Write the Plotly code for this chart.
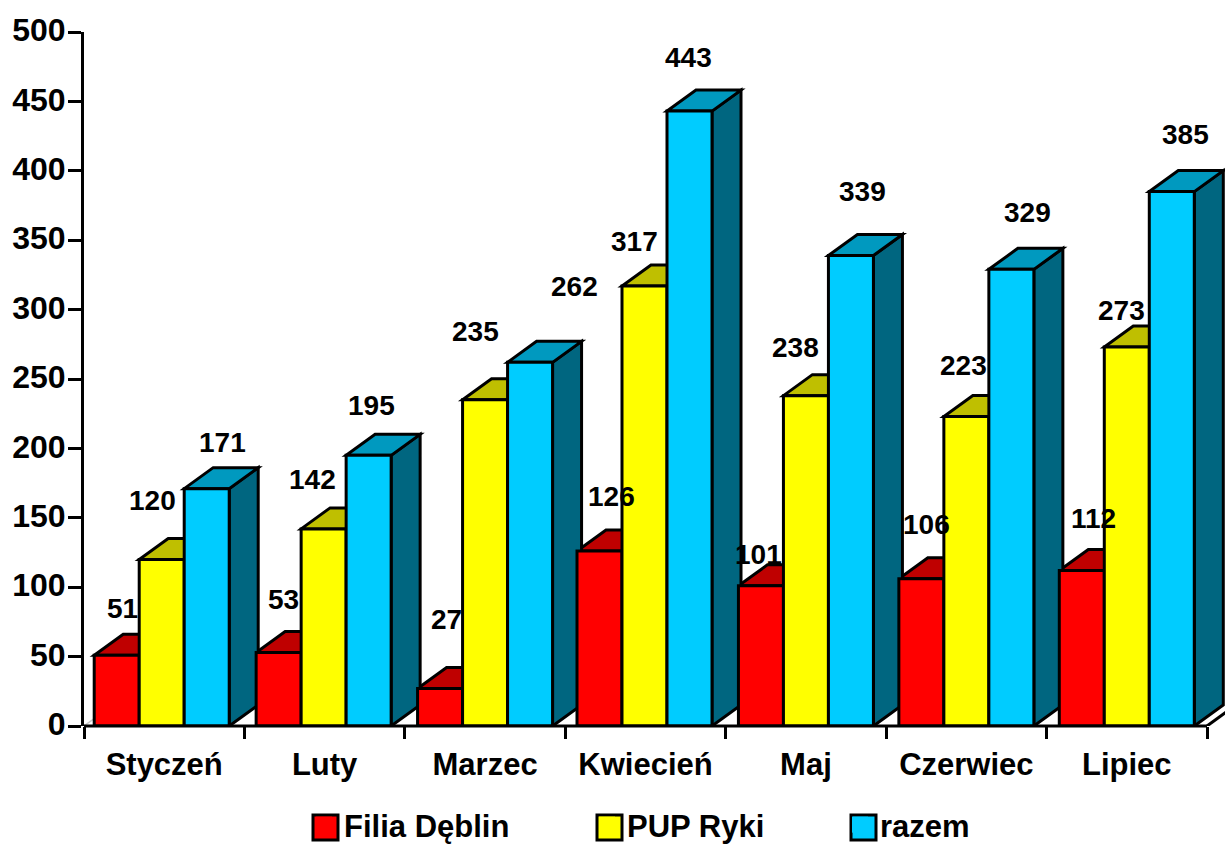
import plotly.graph_objects as go

months = ["Styczeń", "Luty", "Marzec", "Kwiecień", "Maj", "Czerwiec", "Lipiec"]
filia = [51, 53, 27, 126, 101, 106, 112]
pup = [120, 142, 235, 317, 238, 223, 273]
razem = [171, 195, 262, 443, 339, 329, 385]
series_names = ["Filia Dęblin", "PUP Ryki", "razem"]
y_ticks = [0, 50, 100, 150, 200, 250, 300, 350, 400, 450, 500]

# styling / geometry constants (not data)
FONT = "Liberation Sans"
front = ["#FF0000", "#FFFF00", "#00CCFF"]
top = ["#BF0000", "#BFBF00", "#0099BF"]
side = ["#800000", "#808000", "#006680"]
EDGE = 3
CAT_PX = 1123 / 7
PX_Y = 694 / 500
bar_w = 45 / CAT_PX
depth_x = 29 / CAT_PX
depth_y = 21 / PX_Y
group_nudge = [-2.5 / CAT_PX, -1 / CAT_PX, 0, -1 / CAT_PX, 0, 0, 0]
# label offsets from the centre of each bar's top, px (right, up)
label_off = [
    [(6, 47), (-9, 59), (16, 46)],
    [(5, 53), (-11, 49), (3, 50)],
    [(6, 69), (-10, 68), (44, 76)],
    [(12, 55), (-10, 45), (-1, 54)],
    [(-2, 31), (-10, 48), (12, 64)],
    [(5, 54), (-3, 51), (16, 57)],
    [(12, 52), (-5, 37), (14, 57)],
]

fig = go.Figure()
shapes = []
values = [filia, pup, razem]


def px_path(points):
    return "M " + " L ".join(f"{a},{b}" for a, b in points) + " Z"


def left_edge(i, s):
    return i + 0.5 + group_nudge[i] + (s - 1.5) * bar_w


for s, vals in enumerate(values):
    for i, v in enumerate(vals):
        x0 = left_edge(i, s)
        x1 = x0 + bar_w
        shapes.append(dict(type="path", layer="below", xref="x", yref="y",
                           path=px_path([(x1, 0), (x1 + depth_x, depth_y), (x1 + depth_x, v + depth_y), (x1, v)]),
                           fillcolor=side[s], line=dict(color="black", width=EDGE)))
        shapes.append(dict(type="path", layer="below", xref="x", yref="y",
                           path=px_path([(x0, v), (x1, v), (x1 + depth_x, v + depth_y), (x0 + depth_x, v + depth_y)]),
                           fillcolor=top[s], line=dict(color="black", width=EDGE)))

for s, vals in enumerate(values):
    fig.add_trace(go.Bar(
        x=[left_edge(i, s) + bar_w / 2 for i in range(len(months))],
        y=vals, width=bar_w, name=series_names[s], showlegend=False,
        marker=dict(color=front[s], line=dict(color="black", width=EDGE)),
    ))

# axis baseline and floor edges
shapes.append(dict(type="line", layer="above", xref="x", yref="paper", x0=0, x1=7, y0=0, y1=0,
                   line=dict(color="black", width=EDGE)))
shapes.append(dict(type="line", layer="above", xref="x", yref="y", x0=7, x1=7 + depth_x, y0=0, y1=depth_y,
                   line=dict(color="black", width=EDGE)))
shapes.append(dict(type="line", layer="below", xref="x", yref="y", x0=0, x1=depth_x, y0=0, y1=depth_y,
                   line=dict(color="#C8C8C8", width=1.5)))

# legend
legend_text_x = [344, 627, 880]
key_x = [313, 597, 851]
layout_legends = {}
for s in range(3):
    lname = "legend" if s == 0 else f"legend{s + 1}"
    fig.add_trace(go.Scatter(
        x=[None], y=[None], mode="markers", name=series_names[s], legend=lname, showlegend=True,
        marker=dict(symbol="square", size=16, color=front[s], line=dict(width=0)),
    ))
    layout_legends[lname] = dict(
        x=(legend_text_x[s] - 40 - 84) / 1141, xanchor="left",
        y=(726 - 825) / 694, yanchor="middle",
        bgcolor="rgba(0,0,0,0)", borderwidth=0, itemclick=False, itemdoubleclick=False,
        font=dict(family=FONT, size=31, color="black", weight=700),
    )
    shapes.append(dict(type="rect", layer="below", xref="paper", yref="paper",
                       x0=(key_x[s] - 84) / 1141, x1=(key_x[s] + 25 - 84) / 1141,
                       y0=(726 - 840) / 694, y1=(726 - 815) / 694,
                       fillcolor=front[s], line=dict(color="black", width=EDGE)))

annotations = []
for s, vals in enumerate(values):
    for i, v in enumerate(vals):
        dx, dy = label_off[i][s]
        annotations.append(dict(
            x=left_edge(i, s) + bar_w / 2, y=v, xref="x", yref="y", text=str(v), showarrow=False,
            xshift=dx, yshift=dy, font=dict(family=FONT, size=28, color="black", weight=700),
        ))

fig.update_layout(
    width=1225, height=844, margin=dict(l=84, r=0, t=32, b=118, pad=0, autoexpand=False),
    paper_bgcolor="white", plot_bgcolor="white", barmode="overlay", showlegend=True,
    shapes=shapes, annotations=annotations, **layout_legends,
    xaxis=dict(range=[0, 1141 / CAT_PX], tickmode="array", tickvals=[i + 0.5 for i in range(len(months))],
               ticktext=months, ticks="outside", ticklen=1, tickcolor="rgba(0,0,0,0)", showgrid=False, zeroline=False,
               showline=False, ticklabelstandoff=10,
               tickfont=dict(family=FONT, size=31, color="black", weight=700),
               minor=dict(tick0=0, dtick=1, ticks="outside", ticklen=12, tickwidth=EDGE, tickcolor="black", showgrid=False)),
    yaxis=dict(range=[0, 500], tickmode="array", tickvals=y_ticks, ticks="outside", ticklen=13, tickwidth=EDGE,
               tickcolor="black", showgrid=False, zeroline=False, showline=True, linecolor="black", linewidth=EDGE,
               ticklabelstandoff=-4, ticklabelshift=-2,
               tickfont=dict(family=FONT, size=32, color="black", weight=700)),
)
fig.write_html("out.html", config=dict(displayModeBar=False),
               post_script="document.body.style.margin='0';document.body.style.overflow='hidden';")
